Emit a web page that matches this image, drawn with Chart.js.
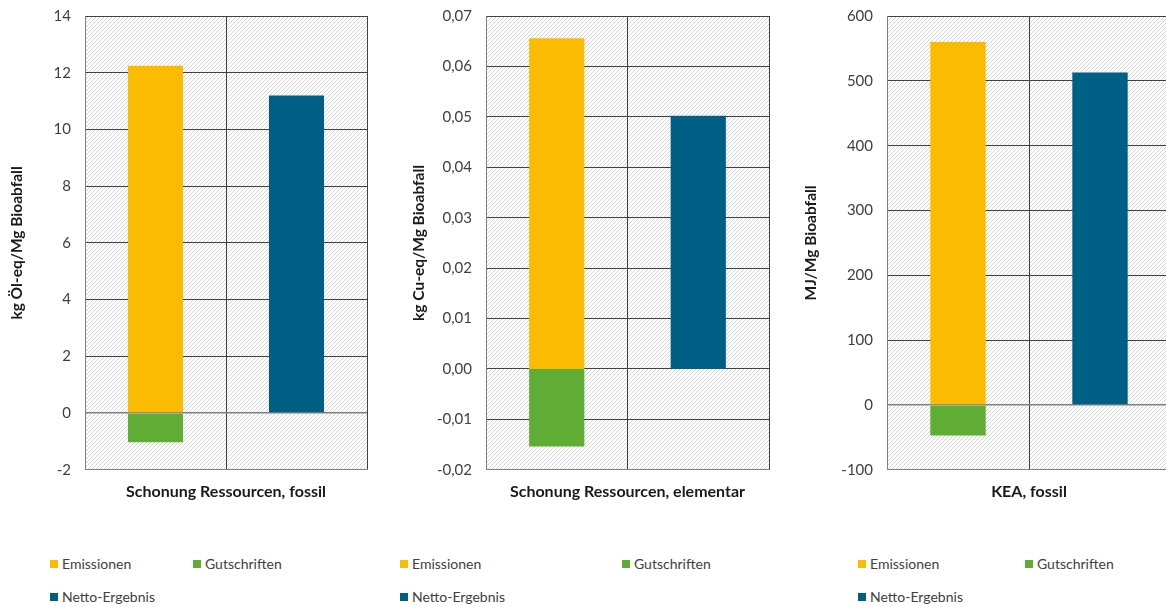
<!DOCTYPE html>
<html>
<head>
<meta charset="utf-8">
<script src="https://cdn.jsdelivr.net/npm/chart.js@4.4.1/dist/chart.umd.min.js"></script>
<style>
  html, body { margin: 0; padding: 0; background: #fff; width: 1166px; height: 607px; overflow: hidden; }
  canvas { position: absolute; top: -7px; }
  .lg { position: absolute; font: 14px Lato, sans-serif; color: #404040; white-space: nowrap; line-height: 16px; }
  .lg i { display: inline-block; width: 8px; height: 8px; margin-right: 4px; vertical-align: 1px; }
</style>
</head>
<body>
<canvas id="c0"></canvas>
<canvas id="c1"></canvas>
<canvas id="c2"></canvas>
<div id="legends"></div>
<script>
// values
const categories   = ['Beiträge', 'Netto'];
const panelTitles  = ['Schonung Ressourcen, fossil', 'Schonung Ressourcen, elementar', 'KEA, fossil'];
const yTitles      = ['kg Öl-eq/Mg Bioabfall', 'kg Cu-eq/Mg Bioabfall', 'MJ/Mg Bioabfall'];
const emissionen   = [12.25, 0.0656, 560];
const gutschriften = [-1.03, -0.0154, -47];
const netto        = [11.2, 0.0502, 513];
const yMin   = [-2, -0.02, -100];
const yMax   = [14, 0.07, 600];
const yStep  = [2, 0.01, 100];
const yDec   = [0, 2, 0];

const seriesColors = { Emissionen: '#FABB00', Gutschriften: '#5FAD35', 'Netto-Ergebnis': '#005F85' };

// canvas placement per panel
const panels = [
    { left: 0,   width: 390, axisW: 85, padR: 23, titlePad: 8,  legendX: [50, 193] },
    { left: 400, width: 390, axisW: 86, padR: 21, titlePad: 10, legendX: [400, 622] },
    { left: 800, width: 400, axisW: 87, padR: 29, titlePad: 2,  legendX: [858, 1025] }
];

// light diagonal hatch like the excel plot area
function makeHatch() {
    const c = document.createElement('canvas');
    c.width = 4; c.height = 4;
    const g = c.getContext('2d');
    g.fillStyle = '#ffffff';
    g.fillRect(0, 0, 4, 4);
    g.strokeStyle = '#d4d4d4';
    g.lineWidth = 1;
    g.beginPath();
    g.moveTo(0, 4); g.lineTo(4, 0);
    g.moveTo(-1, 1); g.lineTo(1, -1);
    g.moveTo(3, 5); g.lineTo(5, 3);
    g.stroke();
    return g.createPattern(c, 'repeat');
}

const hatchPlugin = {
    id: 'hatch',
    beforeDraw(chart) {
        const a = chart.chartArea;
        const ctx = chart.ctx;
        ctx.save();
        ctx.fillStyle = makeHatch();
        ctx.fillRect(a.left, a.top, a.right - a.left, a.bottom - a.top);
        ctx.restore();
    }
};

const legendBox = document.getElementById('legends');

panels.forEach(function (p, i) {
    const canvas = document.getElementById('c' + i);
    canvas.width = p.width;
    canvas.height = 512;
    canvas.style.left = p.left + 'px';
    canvas.style.width = p.width + 'px';
    canvas.style.height = '512px';

    const chart = new Chart(canvas.getContext('2d'), {
        type: 'bar',
        data: {
            labels: categories,
            datasets: [
                { label: 'Emissionen', data: [emissionen[i], null], backgroundColor: seriesColors.Emissionen },
                { label: 'Gutschriften', data: [gutschriften[i], null], backgroundColor: seriesColors.Gutschriften },
                { label: 'Netto-Ergebnis', data: [null, netto[i]], backgroundColor: seriesColors['Netto-Ergebnis'] }
            ]
        },
        plugins: [hatchPlugin],
        options: {
            responsive: false,
            animation: false,
            devicePixelRatio: 1,
            barPercentage: 0.39,
            categoryPercentage: 1,
            layout: { padding: { top: 0, right: p.padR, bottom: 0, left: 0 } },
            plugins: {
                legend: { display: false },
                tooltip: { enabled: false }
            },
            scales: {
                x: {
                    stacked: true,
                    ticks: { display: false },
                    grid: { color: '#404040', lineWidth: 1, drawTicks: false },
                    border: { color: '#808080', width: 1 },
                    title: {
                        display: true,
                        text: panelTitles[i],
                        color: '#1a1a1a',
                        font: { family: 'Lato', size: 16, weight: 'bold' },
                        padding: { top: 12, bottom: 4 }
                    }
                },
                y: {
                    stacked: true,
                    min: yMin[i],
                    max: yMax[i],
                    afterFit: function (scale) { scale.width = p.axisW; },
                    ticks: {
                        stepSize: yStep[i],
                        padding: 14,
                        color: '#404040',
                        font: { family: 'Lato', size: 15 },
                        callback: function (v) { return Number(v).toFixed(yDec[i]).replace('.', ','); }
                    },
                    grid: {
                        drawTicks: false,
                        lineWidth: function (ctx) { return ctx.tick && ctx.tick.value === 0 ? 1.5 : 1; },
                        color: function (ctx) { return ctx.tick && ctx.tick.value === 0 ? '#808080' : '#404040'; }
                    },
                    border: { color: '#808080', width: 1 },
                    title: {
                        display: true,
                        text: yTitles[i],
                        color: '#1a1a1a',
                        font: { family: 'Lato', size: 15.5, weight: 'bold' },
                        padding: { top: p.titlePad, bottom: 0 }
                    }
                }
            }
        }
    });

    // html legend from the chart's own datasets, two per row
    const items = Chart.defaults.plugins.legend.labels.generateLabels(chart);
    items.forEach(function (it, k) {
        const d = document.createElement('div');
        d.className = 'lg';
        d.style.left = p.legendX[k % 2] + 'px';
        d.style.top = (k < 2 ? 556 : 589) + 'px';
        d.innerHTML = '<i style="background:' + it.fillStyle + '"></i>' + it.text;
        legendBox.appendChild(d);
    });
});
</script>
</body>
</html>
